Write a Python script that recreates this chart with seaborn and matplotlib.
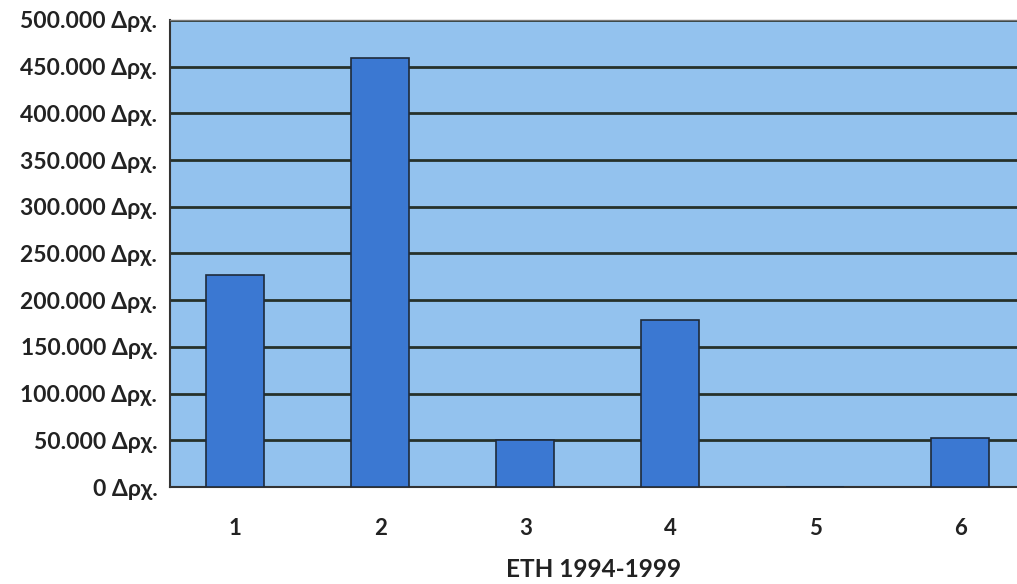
import matplotlib
matplotlib.use("Agg")
import matplotlib.pyplot as plt
import seaborn as sns
import pandas as pd

categories = ["1", "2", "3", "4", "5", "6"]
values = [227000, 459000, 50000, 179000, 0, 52000]
y_ticks = [0, 50000, 100000, 150000, 200000, 250000, 300000, 350000, 400000, 450000, 500000]
y_tick_labels = ["0 Δρχ.", "50.000 Δρχ.", "100.000 Δρχ.", "150.000 Δρχ.", "200.000 Δρχ.",
                 "250.000 Δρχ.", "300.000 Δρχ.", "350.000 Δρχ.", "400.000 Δρχ.",
                 "450.000 Δρχ.", "500.000 Δρχ."]
x_label = "ΕΤΗ 1994-1999"

sns.set_theme(style="white")
plt.rcParams['font.family'] = ['Lato', 'DejaVu Sans']

df = pd.DataFrame({"year": categories, "value": values})

fig = plt.figure(figsize=(10.17, 5.84), dpi=100)
ax = fig.add_axes([0.167, 0.166, 0.833, 0.80])
ax.set_facecolor("#93c2ee")

sns.barplot(data=df, x="year", y="value", ax=ax, color="#3b78d2", width=0.4,
            saturation=1, edgecolor="#1e2a3a", linewidth=1.2, zorder=3)

ax.set_ylim(0, 500000)
ax.set_xlim(-0.45, 5.39)
ax.set_yticks(y_ticks)
ax.set_yticklabels(y_tick_labels, fontsize=16.5, fontweight="bold", color="#222222")
ax.tick_params(axis="x", labelsize=16, labelcolor="#222222", pad=22, length=0)
ax.tick_params(axis="y", pad=9, length=0)
for lab in ax.get_xticklabels():
    lab.set_fontweight("bold")

ax.yaxis.grid(True, color="#26312a", linewidth=2.0, zorder=1)
ax.set_axisbelow(True)

ax.set_ylabel("")
ax.set_xlabel(x_label, fontsize=17.5, fontweight="bold", color="#222222", labelpad=14)

for side in ["left", "bottom"]:
    ax.spines[side].set_color("#333333")
    ax.spines[side].set_linewidth(1.5)
ax.spines["top"].set_color("#777777")
ax.spines["top"].set_linewidth(1.0)
ax.spines["right"].set_visible(False)

fig.savefig("out.png", dpi=100, facecolor="white")
